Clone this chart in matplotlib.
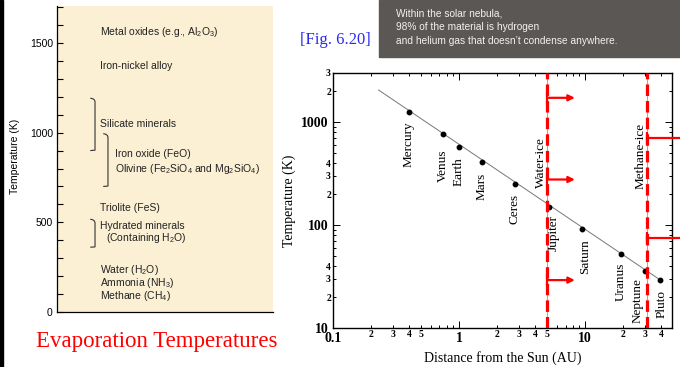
"""Evaporation temperatures (left) next to the solar-nebula temperature
profile with the water-ice and methane-ice lines (right)."""

import matplotlib

matplotlib.use("Agg")
import matplotlib.pyplot as plt
from matplotlib.patches import Rectangle
from matplotlib.path import Path
from matplotlib.patches import PathPatch
from matplotlib.ticker import FixedLocator, FuncFormatter
import numpy as np

plt.rcParams["mathtext.fontset"] = "custom"
plt.rcParams["mathtext.rm"] = "Liberation Sans"
plt.rcParams["mathtext.it"] = "Liberation Sans:italic"
plt.rcParams["mathtext.bf"] = "Liberation Sans:bold"

SANS = "Liberation Sans"
SERIF = "Liberation Serif"
RED = "#ff0000"

# ------------------------------------------------------------------ data

# left panel: condensation products and their evaporation temperature [K]
left_labels = [
    "Metal oxides (e.g., Al$_2$O$_3$)",
    "Iron-nickel alloy",
    "Silicate minerals",
    "Iron oxide (FeO)",
    "Olivine (Fe$_2$SiO$_4$ and Mg$_2$SiO$_4$)",
    "Triolite (FeS)",
    "Hydrated minerals",
    "(Containing H$_2$O)",
    "Water (H$_2$O)",
    "Ammonia (NH$_3$)",
    "Methane (CH$_4$)",
]
left_temps = [1560, 1372, 1050, 883, 800, 578, 478, 411, 233, 161, 89]
left_indent = [0, 0, 0, 1, 1, 0, 0, 2, 0, 0, 0]
# brace ranges [K] (top, bottom) and level
brace_top = [1192, 994, 517]
brace_bottom = [900, 700, 361]
brace_level = [0, 1, 0]

# right panel: planets, distance [AU] and temperature [K]
planets = ["Mercury", "Venus", "Earth", "Mars", "Ceres", "Jupiter",
           "Saturn", "Uranus", "Neptune", "Pluto"]
planet_au = [0.40, 0.75, 1.0, 1.52, 2.77, 5.2, 9.5, 19.2, 30.0, 39.5]
planet_t = [1250, 766, 573, 411, 251, 151, 92, 52, 36, 29]
# label centre offset from the dot, pixels (dx, dy)
label_dx = [0, 0, 0, 0, 0, 5, 3, 0, -8, 1]
label_dy = [-32, -32, -25, -25, -25, -26, -28, -28, -30, -24]

# fitted nebula temperature line, end points
fit_au = [0.23, 40.0]
fit_t = [2050, 29]

# ice lines
ice_names = ["Water-ice", "Methane-ice"]
ice_au = [5.0, 31.0]
ice_label_t = [404, 473]
water_arrow_t = [1722, 277, 29.2]
water_arrow_end = 8.3
methane_arrow_t = [707, 74.3]
methane_arrow_end = 60.0

note_lines = [
    "Within the solar nebula,",
    "98% of the material is hydrogen",
    "and helium gas that doesn\u2019t condense anywhere.",
]

# ------------------------------------------------------------------ figure

W, H = 680, 367
fig = plt.figure(figsize=(W / 100, H / 100), dpi=100)
fig.patch.set_facecolor("white")


def fx(px):
    return px / W


def fy(py):
    return 1 - py / H


# black slide border on the left edge
fig.patches.append(Rectangle((0, 0), fx(3), 1, transform=fig.transFigure,
                             color="black", zorder=5))

# --------------------------------------------------------------- left panel
axl = fig.add_axes([fx(57), fy(312), fx(216), fy(6) - fy(312)])
axl.set_facecolor("#fbf0d3")
axl.set_xlim(0, 1)
axl.set_ylim(0, 1706)
axl.spines[["top", "right"]].set_visible(False)
axl.spines[["left", "bottom"]].set_linewidth(0.9)
axl.set_xticks([])
axl.set_yticks(np.arange(0, 1701, 500))
axl.yaxis.set_minor_locator(FixedLocator(np.arange(0, 1701, 100)))
axl.tick_params(axis="y", which="both", direction="in", length=4, width=0.8,
                labelsize=7.5, pad=3)
for lab in axl.get_yticklabels():
    lab.set_fontfamily(SANS)
fig.text(fx(15), fy(156), "Temperature (K)", rotation=90, fontsize=7.5,
         family=SANS, ha="center", va="center")

indent_x = [0.199, 0.269, 0.227]
for txt, t, ind in zip(left_labels, left_temps, left_indent):
    axl.text(indent_x[ind], t, txt, fontsize=7.5, family=SANS,
             va="center", ha="left", color="#222222")


def brace(ax, x, y0, y1, w=0.022, hook=22):
    """Right-facing curly brace from y0 (top) to y1 (bottom)."""
    verts = [(x - w, y0), (x, y0 - 2), (x, y0 - hook), (x, y0 - hook * 1.5),
             (x, y1 + hook * 1.5), (x, y1 + hook), (x, y1 + 2), (x - w, y1)]
    codes = [Path.MOVETO, Path.CURVE3, Path.CURVE3, Path.LINETO,
             Path.LINETO, Path.CURVE3, Path.CURVE3, Path.LINETO]
    ax.add_patch(PathPatch(Path(verts, codes), fill=False, lw=0.8,
                           color="#333333"))


brace_x = [0.176, 0.236]
for top, bot, lvl in zip(brace_top, brace_bottom, brace_level):
    brace(axl, brace_x[lvl], top, bot)

fig.text(fx(157), fy(341), "Evaporation Temperatures", color=RED,
         family=SERIF, fontsize=16.5, ha="center", va="center")

# ------------------------------------------------------------- note box
fig.patches.append(Rectangle((fx(379), fy(57)), fx(301), fy(0) - fy(57),
                             transform=fig.transFigure, color="#5b5755",
                             zorder=1))
for i, line in enumerate(note_lines):
    fig.text(fx(396), fy(14 + 13.5 * i), line, color="#f2f2f2", family=SANS,
             fontsize=7.3, va="center", ha="left", zorder=2)

fig.text(fx(335), fy(40), "[Fig. 6.20]", color="#2b2bf0", family=SERIF,
         fontsize=12, ha="center", va="center")

# -------------------------------------------------------------- right panel
axr = fig.add_axes([fx(333), fy(328), fx(339), fy(73) - fy(328)])
axr.set_xscale("log")
axr.set_yscale("log")
axr.set_xlim(0.1, 49)
axr.set_ylim(10, 3000)
for sp in axr.spines.values():
    sp.set_linewidth(1.0)


def mantissa(v):
    return round(v / 10 ** np.floor(np.log10(v) + 1e-9))


axr.xaxis.set_major_locator(FixedLocator([0.1, 1, 10]))
axr.xaxis.set_major_formatter(FuncFormatter(lambda v, p: f"{v:g}"))
x_minor = [m * 10.0 ** d for d in (-1, 0, 1) for m in range(2, 10)]
axr.xaxis.set_minor_locator(FixedLocator([v for v in x_minor if v < 49]))
axr.xaxis.set_minor_formatter(FuncFormatter(
    lambda v, p: f"{mantissa(v)}" if mantissa(v) in (2, 3, 4, 5) else ""))

axr.yaxis.set_major_locator(FixedLocator([10, 100, 1000]))
axr.yaxis.set_major_formatter(FuncFormatter(lambda v, p: f"{v:g}"))
y_minor = [m * 10.0 ** d for d in (1, 2, 3) for m in range(2, 10)]
axr.yaxis.set_minor_locator(FixedLocator([v for v in y_minor if v <= 3000]))
axr.yaxis.set_minor_formatter(FuncFormatter(
    lambda v, p: f"{mantissa(v)}" if mantissa(v) in (2, 3, 4) else ""))

axr.tick_params(which="both", direction="in", top=True, right=True,
                width=0.7)
axr.tick_params(which="major", length=5, labelsize=10, pad=3)
axr.tick_params(which="minor", length=2.5, labelsize=7, pad=1.5)
for lab in axr.get_xticklabels(which="both") + axr.get_yticklabels(which="both"):
    lab.set_fontfamily(SERIF)
    lab.set_fontweight("bold")

axr.set_xlabel("Distance from the Sun (AU)", family=SERIF, fontsize=10,
               labelpad=4)
axr.set_ylabel("Temperature (K)", family=SERIF, fontsize=10, labelpad=4)

axr.plot(fit_au, fit_t, color="#777777", lw=0.7, zorder=2)
axr.plot(planet_au, planet_t, "o", color="black", ms=3.2, zorder=3)
for name, x, t, dx, dy in zip(planets, planet_au, planet_t, label_dx,
                              label_dy):
    axr.annotate(name, (x, t), xytext=(dx * 0.72, dy * 0.72),
                 textcoords="offset points", rotation=90, ha="center",
                 va="center", family=SERIF, fontsize=9.5)

for name, x, t in zip(ice_names, ice_au, ice_label_t):
    axr.axvline(x, color="#999999", lw=0.6, zorder=2)
    axr.axvline(x, color=RED, lw=2.3, ls=(0, (3.6, 1.6)), zorder=4)
    axr.annotate(name, (x, t), xytext=(-4.5, 0), textcoords="offset points",
                 rotation=90, ha="center", va="center", family=SERIF,
                 fontsize=9.5)

for t in water_arrow_t:
    axr.annotate("", xy=(water_arrow_end, t), xytext=(ice_au[0], t),
                 arrowprops=dict(arrowstyle="-|>", color=RED, lw=1.6,
                                 mutation_scale=9, shrinkA=0, shrinkB=0),
                 zorder=5)
    axr.plot([ice_au[0]], [t], marker="|", ms=8, mew=1.6, color=RED,
             zorder=5)
for t in methane_arrow_t:
    axr.plot([ice_au[1], methane_arrow_end], [t, t], color=RED, lw=1.6,
             clip_on=False, zorder=5)
    axr.plot([ice_au[1]], [t], marker="|", ms=8, mew=1.6, color=RED,
             zorder=5)

fig.savefig("out.png", dpi=100)
